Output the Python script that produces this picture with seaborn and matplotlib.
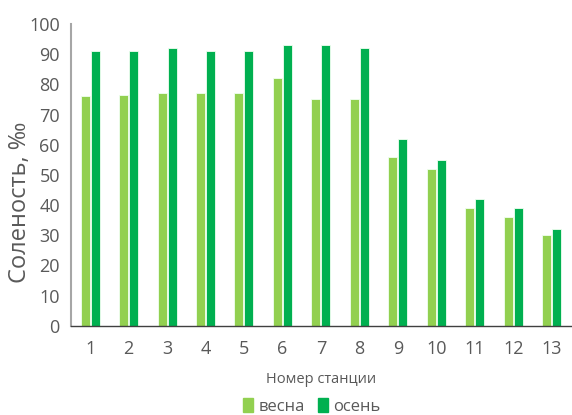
import matplotlib
matplotlib.use("Agg")
import matplotlib.pyplot as plt
import pandas as pd
import seaborn as sns

# Data
stations = [str(i) for i in range(1, 14)]
spring = [76, 76.5, 77, 77, 77, 82, 75, 75, 56, 52, 39, 36, 30]
autumn = [91, 91, 92, 91, 91, 93, 93, 92, 62, 55, 42, 39, 32]
season_labels = ["весна", "осень"]
colors = ["#92D050", "#00B050"]

df = pd.DataFrame({
    "Станция": stations * 2,
    "Соленость": spring + autumn,
    "Сезон": [season_labels[0]] * len(stations) + [season_labels[1]] * len(stations),
})

sns.set_style("white")
plt.rcParams["font.family"] = ["Open Sans", "DejaVu Sans"]
text_color = "#595959"

fig = plt.figure(figsize=(5.72, 4.15), dpi=100)
ax = fig.add_axes([0.124, 0.215, 0.874, 0.727])

sns.barplot(
    data=df, x="Станция", y="Соленость", hue="Сезон",
    palette=colors, saturation=1, width=0.52, gap=0.1, ax=ax,
    edgecolor="#f0fff0", linewidth=0.6, legend=False,
)

ax.set_ylim(0, 100)
ax.set_yticks(range(0, 101, 10))
ax.set_xlim(-0.5, 12.5)
ax.set_ylabel("Соленость, ‰", fontsize=17, color=text_color)
ax.yaxis.set_label_coords(-0.078, 0.41)
ax.set_xlabel("Номер станции", fontsize=10.5, color=text_color, labelpad=10)

for side in ["top", "right"]:
    ax.spines[side].set_visible(False)
ax.spines["left"].set_color("#a6a6a6")
ax.spines["left"].set_linewidth(1.5)
ax.spines["bottom"].set_color("#404040")
ax.spines["bottom"].set_linewidth(1.0)

ax.tick_params(axis="y", direction="out", length=5, width=1, color="#808080",
               labelsize=13, labelcolor=text_color, pad=3)
ax.tick_params(axis="x", direction="out", length=5, width=1, color="#a6a6a6",
               labelsize=13, labelcolor=text_color, pad=5)

handles = [plt.Rectangle((0, 0), 1, 1, color=c) for c in colors]
fig.legend(handles, season_labels, loc="center", bbox_to_anchor=(0.545, 0.02),
           ncol=2, frameon=False, fontsize=12, handlelength=0.6, handleheight=0.9,
           handletextpad=0.3, columnspacing=0.8, labelcolor=text_color,
           borderpad=0)

fig.savefig("out.png", dpi=100)
